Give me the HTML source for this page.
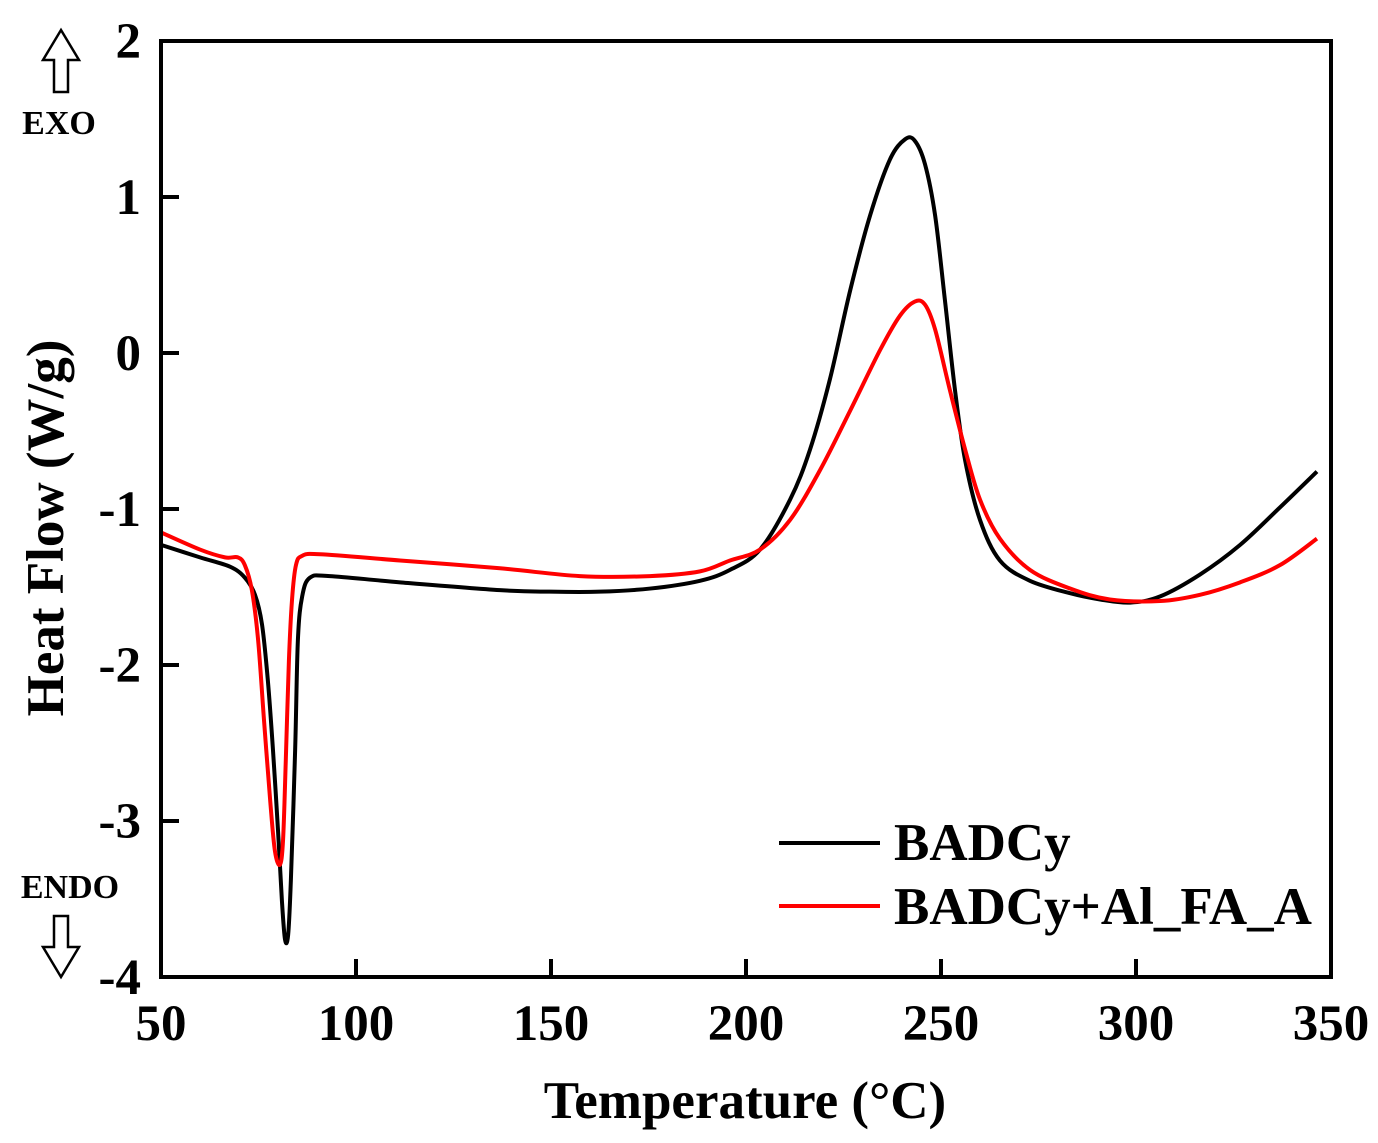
<!DOCTYPE html>
<html><head><meta charset="utf-8"><style>
html,body{margin:0;padding:0;background:#fff;}
svg{display:block;font-family:"Liberation Serif",serif;font-weight:bold;}
</style></head><body>
<svg id="chart" width="1378" height="1143" viewBox="0 0 1378 1143">
<g id="ticks"></g>
<g id="series"></g>
<rect x="161" y="41" width="1170" height="936" fill="none" stroke="#000" stroke-width="4"/>
<text x="745" y="1118" font-size="53" text-anchor="middle">Temperature (°C)</text>
<text transform="translate(63,528) rotate(-90)" font-size="53" text-anchor="middle">Heat Flow (W/g)</text>
<g>
<path d="M61,30 L79,60 L68,60 L68,92 L54,92 L54,60 L43,60 Z" fill="none" stroke="#000" stroke-width="2.5"/>
<text x="59" y="134" font-size="34" text-anchor="middle">EXO</text>
</g>
<g>
<text x="70" y="898" font-size="34" text-anchor="middle">ENDO</text>
<path d="M61,977 L79,947 L68,947 L68,916 L54,916 L54,947 L43,947 Z" fill="none" stroke="#000" stroke-width="2.5"/>
</g>
<g>
<line x1="779" y1="843" x2="880" y2="843" stroke="#000" stroke-width="4"/>
<text x="894" y="860" font-size="53">BADCy</text>
<line x1="779" y1="906" x2="880" y2="906" stroke="#f00" stroke-width="4"/>
<text x="894" y="924" font-size="53">BADCy+Al_FA_A</text>
</g>
</svg>
<script>
const xTicks=[50,100,150,200,250,300,350];
const yTicks=[2,1,0,-1,-2,-3,-4];
const blackT=[50,60,67.7,71.5,74.1,75.9,77.4,78.7,80,81,81.8,82.6,83.3,84.4,85.1,86.2,88.2,93.3,111.3,136.9,149.7,162.6,175.4,188.2,195.9,203.6,211.3,216.4,221.5,226.7,231.8,236.9,240.8,243.3,245.9,248.5,251,253.6,256.2,260,265.1,272.8,283.1,290.8,298.5,306.2,316.4,326.7,336.9,346.4];
const blackH=[-1.23,-1.31,-1.37,-1.44,-1.55,-1.74,-2.10,-2.54,-3.06,-3.51,-3.76,-3.73,-3.38,-2.54,-1.84,-1.56,-1.44,-1.43,-1.47,-1.52,-1.53,-1.53,-1.51,-1.46,-1.39,-1.26,-0.94,-0.62,-0.17,0.40,0.88,1.24,1.37,1.36,1.21,0.88,0.34,-0.24,-0.69,-1.07,-1.33,-1.46,-1.54,-1.58,-1.60,-1.56,-1.42,-1.23,-0.99,-0.76];
const redT=[50,60,66.4,69.7,71.5,73.3,74.9,76.4,78,79.2,80.5,81.3,82,82.8,83.6,84.6,86.2,90.8,111.3,136.9,157.4,175.4,188.2,195.9,203.6,211.3,219,226.7,234.4,239.5,243.3,245.9,248.5,252.3,256.2,260,265.1,272.8,283.1,293.3,306.2,316.4,326.7,336.9,346.4];
const redH=[-1.15,-1.26,-1.31,-1.31,-1.36,-1.52,-1.84,-2.35,-2.87,-3.19,-3.28,-3.12,-2.61,-1.97,-1.58,-1.36,-1.30,-1.29,-1.33,-1.38,-1.43,-1.43,-1.40,-1.33,-1.26,-1.07,-0.75,-0.37,0.02,0.24,0.33,0.31,0.15,-0.24,-0.62,-0.94,-1.19,-1.39,-1.51,-1.58,-1.59,-1.55,-1.47,-1.36,-1.19];
const NS='http://www.w3.org/2000/svg';
function X(v){return 161+(v-50)*1170/300;}
function Y(v){return 41+(2-v)*936/6;}
const tg=document.getElementById('ticks');
xTicks.forEach(t=>{
  const l=document.createElementNS(NS,'line');
  l.setAttribute('x1',X(t));l.setAttribute('x2',X(t));l.setAttribute('y1',977);l.setAttribute('y2',959);
  l.setAttribute('stroke','#000');l.setAttribute('stroke-width',4);
  
  
  tg.appendChild(l);
  const tx=document.createElementNS(NS,'text');
  tx.setAttribute('x',X(t));tx.setAttribute('y',1040);tx.setAttribute('font-size',51);tx.setAttribute('text-anchor','middle');
  tx.textContent=t;
  
  
  tg.appendChild(tx);
});
yTicks.forEach(t=>{
  const l=document.createElementNS(NS,'line');
  l.setAttribute('x1',161);l.setAttribute('x2',179);l.setAttribute('y1',Y(t));l.setAttribute('y2',Y(t));
  l.setAttribute('stroke','#000');l.setAttribute('stroke-width',4);
  
  
  tg.appendChild(l);
  const tx=document.createElementNS(NS,'text');
  tx.setAttribute('x',141);tx.setAttribute('y',Y(t)+17);tx.setAttribute('font-size',51);tx.setAttribute('text-anchor','end');
  tx.textContent=t;
  
  
  tg.appendChild(tx);
});
function pathFor(ts,hs){
  const p=ts.map((t,i)=>[X(t),Y(hs[i])]);
  let d='M'+p[0][0]+','+p[0][1];
  for(let i=0;i<p.length-1;i++){
    const p0=p[Math.max(0,i-1)],p1=p[i],p2=p[i+1],p3=p[Math.min(p.length-1,i+2)];
    const c1=[p1[0]+(p2[0]-p0[0])/6,p1[1]+(p2[1]-p0[1])/6];
    const c2=[p2[0]-(p3[0]-p1[0])/6,p2[1]-(p3[1]-p1[1])/6];
    d+=' C'+c1.join(',')+' '+c2.join(',')+' '+p2.join(',');
  }
  return d;
}
const sg=document.getElementById('series');
const pb=document.createElementNS(NS,'path');
pb.setAttribute('d',pathFor(blackT,blackH));pb.setAttribute('fill','none');pb.setAttribute('stroke','#000');pb.setAttribute('stroke-width',4);


sg.appendChild(pb);
const pr=document.createElementNS(NS,'path');
pr.setAttribute('d',pathFor(redT,redH));pr.setAttribute('fill','none');pr.setAttribute('stroke','#f00');pr.setAttribute('stroke-width',4);


sg.appendChild(pr);
</script>
</body></html>
